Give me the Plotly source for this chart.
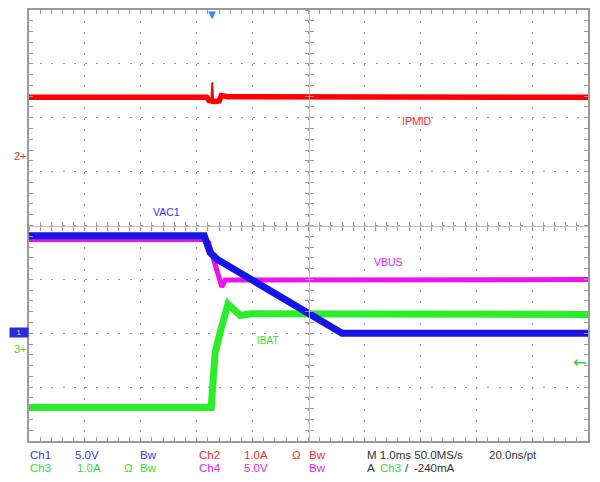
import plotly.graph_objects as go

# ---------------- data (time in ms relative to trigger) ----------------
vac1_t = [-3.26, -0.125, -0.02, 0.11, 2.34, 6.74]
vac1_v = [9.05, 9.05, 7.5, 6.85, 0.0, 0.0]

vbus_t = [-3.26, -0.11, -0.05, 0.16, 0.19, 0.25, 6.74]
vbus_v = [8.7, 8.7, 8.45, 4.45, 4.3, 4.95, 4.98]

ipmid_t = [-3.26, -0.08, -0.04, 0.05, 0.14, 0.18, 0.3, 6.74]
ipmid_a = [1.08, 1.08, 1.02, 1.0, 1.01, 1.11, 1.09, 1.08]

# short glitch on IPMID at the trigger instant
ipmid_glitch_t = [0.0, 0.018, 0.036]
ipmid_glitch_a = [1.0, 1.36, 1.0]

ibat_t = [-3.26, 0.0, 0.02, 0.04, 0.07, 0.16, 0.30, 0.37, 0.52, 0.70, 6.74]
ibat_a = [-1.1, -1.1, -0.8, -0.2, -0.08, 0.3, 0.82, 0.75, 0.61, 0.64, 0.63]

# scope settings: volts/amps per division and ground marker position (div from centre)
channels = ["VAC1", "IPMID", "IBAT", "VBUS"]
ch_scale = [5.0, 1.0, 1.0, 5.0]
ch_pos = [-2.0, 1.30, -2.28, -2.0]

TIME_PER_DIV = 1.0
TRIG_DIV = 3.26
N_XDIV = 10
N_YDIV = 8

# readout text
row1 = [("Ch1", "#3535ff", 28), ("5.0V", "#3535ff", 73), ("Bw", "#3535ff", 138),
        ("Ch2", "#ff2a2a", 197), ("1.0A", "#ff2a2a", 242), ("Ω", "#ff2a2a", 290),
        ("Bw", "#ff2a2a", 307), ("M 1.0ms 50.0MS/s", "#333333", 365),
        ("20.0ns/pt", "#333333", 487)]
row2 = [("Ch3", "#33dd33", 28), ("1.0A", "#33dd33", 75), ("Ω", "#33dd33", 122),
        ("Bw", "#33dd33", 138), ("Ch4", "#ee22ee", 197), ("5.0V", "#ee22ee", 242),
        ("Bw", "#ee22ee", 307), ("A", "#333333", 365), ("Ch3", "#33dd33", 378),
        ("/", "#333333", 403), ("-240mA", "#333333", 412)]

# ---------------- layout geometry ----------------
W, H = 600, 482
L, R, T, B = 29, 12, 10, 41
PW, PH = W - L - R, H - T - B


def px(x, y):
    return (x - L) / PW, (H - B - y) / PH


GRAY = "#9a9a9a"
FONT = "Liberation Sans"

fig = go.Figure()

trace_specs = [
    (ipmid_t, ipmid_a, "IPMID", "#ff0000", 5.5, "y2"),
    (ipmid_glitch_t, ipmid_glitch_a, "IPMID", "#ff0000", 1.8, "y2"),
    (vbus_t, vbus_v, "VBUS", "#f010f0", 5, "y3"),
    (ibat_t, ibat_a, "IBAT", "#2bee2b", 7, "y4"),
    (vac1_t, vac1_v, "VAC1", "#1515e6", 7, "y5"),
]
ch_index = {"VAC1": 0, "IPMID": 1, "IBAT": 2, "VBUS": 3}
ch_axis = {"IPMID": "y2", "VBUS": "y3", "IBAT": "y4", "VAC1": "y5"}

xr = [-TRIG_DIV * TIME_PER_DIV, (N_XDIV - TRIG_DIV) * TIME_PER_DIV]
yr = [-N_YDIV / 2, N_YDIV / 2]

# invisible traces on the graticule axes so they are drawn
for xa, ya in [("x", "y"), ("x2", "y6"), ("x3", "y7")]:
    fig.add_trace(go.Scatter(x=xr, y=yr, mode="lines", line=dict(width=0),
                             xaxis=xa, yaxis=ya, showlegend=False,
                             hoverinfo="skip"))
for t, v, name, col, w, ya in trace_specs:
    fig.add_trace(go.Scatter(x=t, y=v, name=name, mode="lines", yaxis=ya,
                             line=dict(color=col, width=w), showlegend=False,
                             hoverinfo="skip"))

xdot_v = PH / N_YDIV / 5
xdot_h = PW / N_XDIV / 5

layout = dict(
    width=W, height=H,
    margin=dict(l=L, r=R, t=T, b=B, pad=0, autoexpand=False),
    paper_bgcolor="white", plot_bgcolor="white",
    showlegend=False,
    xaxis=dict(range=xr, tick0=xr[0], dtick=TIME_PER_DIV, showgrid=True,
               gridcolor=GRAY, gridwidth=1,
               griddash=f"2px,{xdot_v - 2:.2f}px",
               showline=True, linecolor=GRAY, linewidth=2, mirror="ticks",
               ticks="inside", ticklen=4, tickcolor=GRAY,
               minor=dict(dtick=TIME_PER_DIV / 5, tick0=xr[0], ticks="inside",
                          ticklen=4, tickcolor=GRAY, showgrid=False),
               showticklabels=False, zeroline=False, fixedrange=True),
    yaxis=dict(range=yr, tick0=0, dtick=1, showgrid=True,
               gridcolor=GRAY, gridwidth=1,
               griddash=f"2px,{xdot_h - 2:.2f}px",
               showline=True, linecolor=GRAY, linewidth=2, mirror="ticks",
               ticks="inside", ticklen=4, tickcolor=GRAY,
               minor=dict(dtick=0.2, tick0=0, ticks="inside", ticklen=4,
                          tickcolor=GRAY, showgrid=False),
               showticklabels=False, zeroline=False, fixedrange=True),
    # centre cross lines with tick marks
    xaxis2=dict(overlaying="x", anchor="free", position=0.5, range=xr,
                tick0=xr[0], dtick=TIME_PER_DIV / 5, ticks="inside", ticklen=4,
                tickcolor=GRAY, showline=True, linecolor="#c4c4c4", linewidth=1,
                showgrid=False, showticklabels=False, zeroline=False,
                fixedrange=True),
    xaxis3=dict(overlaying="x", anchor="free", position=0.5, range=xr,
                tick0=xr[0], dtick=TIME_PER_DIV / 5, ticks="outside", ticklen=4,
                tickcolor=GRAY, showline=False, showgrid=False,
                showticklabels=False, zeroline=False, fixedrange=True),
    yaxis6=dict(overlaying="y", anchor="free", position=0.5, range=yr,
                tick0=0, dtick=0.2, ticks="inside", ticklen=4, tickcolor=GRAY,
                showline=True, linecolor="#c4c4c4", linewidth=1, showgrid=False,
                showticklabels=False, zeroline=False, fixedrange=True),
    yaxis7=dict(overlaying="y", anchor="free", position=0.5, range=yr,
                tick0=0, dtick=0.2, ticks="outside", ticklen=4, tickcolor=GRAY,
                showline=False, showgrid=False, showticklabels=False,
                zeroline=False, fixedrange=True),
)
# channel axes derived from scope settings
for name, ya in ch_axis.items():
    i = ch_index[name]
    sc, pos = ch_scale[i], ch_pos[i]
    layout["yaxis" + ya[1:]] = dict(
        overlaying="y", anchor="x", visible=False, fixedrange=True,
        range=[(-N_YDIV / 2 - pos) * sc, (N_YDIV / 2 - pos) * sc])
fig.update_layout(**layout)

ann = []


def text(s, x, y, color, size=11, xanchor="left", family=FONT, **kw):
    xp, yp = px(x, y)
    ann.append(dict(text=s, x=xp, y=yp, xref="paper", yref="paper",
                    xanchor=xanchor, yanchor="middle", showarrow=False,
                    font=dict(family=family, size=size, color=color), **kw))


# trace labels
text("IPMID", 417, 121, "#ff2a2a", 10.5, "center")
text("VAC1", 166, 212, "#3535ff", 10.5, "center")
text("VBUS", 388, 262, "#ee22ee", 10.5, "center")
text("IBAT", 267, 340, "#33dd33", 10, "center")
# ground markers
text("2+", 12, 156, "#ff2a2a", 11)
text("3+", 12, 349, "#33dd33", 11)
text("1", 9, 332, "#d0d8ff", 8, bgcolor="#2a2ae0", borderpad=0, width=18, height=9)
# trigger markers
text("←", 589, 362, "#33dd33", 17, "right", family="DejaVu Sans")
text("▼", 212, 14, "#2a8cff", 10, "center", family="DejaVu Sans")
# readout
for s, c, x in row1:
    text(s, x, 455, c, 11.5)
for s, c, x in row2:
    text(s, x, 468, c, 11.5)

fig.update_layout(annotations=ann)
fig.write_html("out.html",
               config={"displayModeBar": False, "staticPlot": True},
               post_script="document.body.style.margin='0';"
                           "document.body.style.padding='0';")
